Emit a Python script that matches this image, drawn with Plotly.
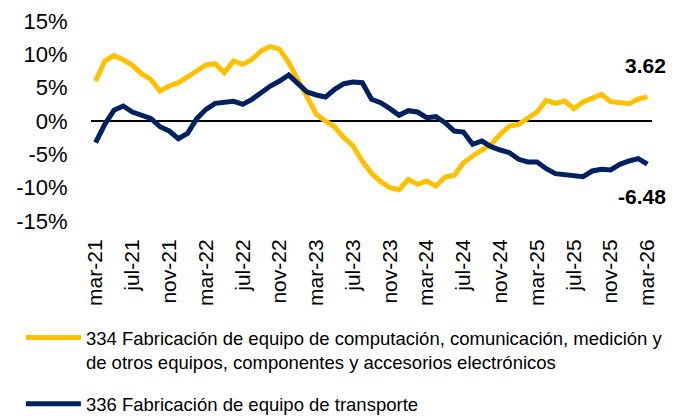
import plotly.graph_objects as go

meses = ["ene", "feb", "mar", "abr", "may", "jun", "jul", "ago", "sep", "oct", "nov", "dic"]
categorias = []
for yr in range(21, 27):
    for m in range(12):
        if (yr == 21 and m < 2) or (yr == 26 and m > 2):
            continue
        categorias.append(f"{meses[m]}-{yr}")

serie_334 = [6.0, 9.0, 9.8, 9.2, 8.35, 7.1, 6.25, 4.5, 5.25, 5.75, 6.6, 7.6, 8.4, 8.6, 7.25, 9.0,
             8.5, 9.25, 10.5, 11.2, 10.75, 8.75, 6.25, 3.5, 1.0, 0.0, -0.9, -2.5, -3.75, -6.0,
             -7.85, -9.1, -10.0, -10.3, -8.75, -9.5, -9.0, -9.75, -8.4, -8.15, -6.25, -5.25,
             -4.35, -3.5, -2.0, -0.75, -0.5, 0.5, 1.35, 3.1, 2.65, 3.0, 1.85, 2.85, 3.4, 4.0,
             2.9, 2.75, 2.6, 3.3, 3.62]
serie_336 = [-3.25, -0.5, 1.6, 2.25, 1.35, 0.9, 0.4, -0.85, -1.5, -2.65, -1.85, 0.35, 1.75, 2.65,
             2.75, 2.95, 2.5, 3.25, 4.25, 5.25, 6.0, 6.9, 5.6, 4.35, 3.9, 3.6, 4.75, 5.6, 5.85,
             5.75, 3.25, 2.75, 1.85, 0.85, 1.55, 1.35, 0.5, 0.65, -0.25, -1.5, -1.65, -3.5,
             -3.0, -3.85, -4.35, -4.75, -5.75, -6.15, -6.15, -7.15, -7.9, -8.1, -8.15, -8.35,
             -7.5, -7.25, -7.35, -6.5, -6.0, -5.65, -6.48]

nombres = ["334 Fabricación de equipo de computación, comunicación, medición y<br>de otros equipos, componentes y accesorios electrónicos",
           "336 Fabricación de equipo de transporte"]
colores = ["#FFC000", "#002060"]

y_ticks = [-15, -10, -5, 0, 5, 10, 15]
x_ticks = categorias[::4]

fig = go.Figure()
for i, (serie, nombre, color) in enumerate(zip([serie_334, serie_336], nombres, colores)):
    fig.add_trace(go.Scatter(x=categorias, y=serie, mode="lines", name=nombre,
                             legendgroup=f"g{i}",
                             line=dict(color=color, width=5)))

fig.add_annotation(x=categorias[-1], y=serie_334[-1], text=f"<b>{serie_334[-1]:.2f}</b>",
                   showarrow=False, xanchor="right", yanchor="middle", xshift=21, yshift=31,
                   font=dict(size=21, color="black"))
fig.add_annotation(x=categorias[-1], y=serie_336[-1], text=f"<b>{serie_336[-1]:.2f}</b>",
                   showarrow=False, xanchor="right", yanchor="middle", xshift=21, yshift=-32,
                   font=dict(size=21, color="black"))

fig.update_layout(
    width=677, height=408,
    margin=dict(l=83, r=33, t=13, b=195, autoexpand=False),
    paper_bgcolor="white", plot_bgcolor="white",
    font=dict(family="Liberation Sans, Arial, sans-serif", color="black"),
    showlegend=True,
    legend=dict(x=-0.125, y=-0.49, xanchor="left", yanchor="top", orientation="v",
                font=dict(size=18.5), valign="top", itemwidth=55, tracegroupgap=15,
                bgcolor="rgba(0,0,0,0)"),
    xaxis=dict(type="category", tickmode="array", tickvals=x_ticks, ticktext=x_ticks,
               tickangle=-90, tickfont=dict(size=21), showgrid=False, showline=False,
               ticks="outside", ticklen=9, tickcolor="rgba(0,0,0,0)", automargin=False,
               range=[-0.5, len(categorias) - 0.5]),
    yaxis=dict(range=[-15, 15], tickmode="array", tickvals=y_ticks,
               ticktext=[f"{v}%" for v in y_ticks], tickfont=dict(size=22),
               showgrid=False, zeroline=True, zerolinecolor="black", zerolinewidth=1.5,
               showline=False, ticks="outside", ticklen=18, tickcolor="rgba(0,0,0,0)",
               automargin=False),
)

fig.write_html("out.html")
